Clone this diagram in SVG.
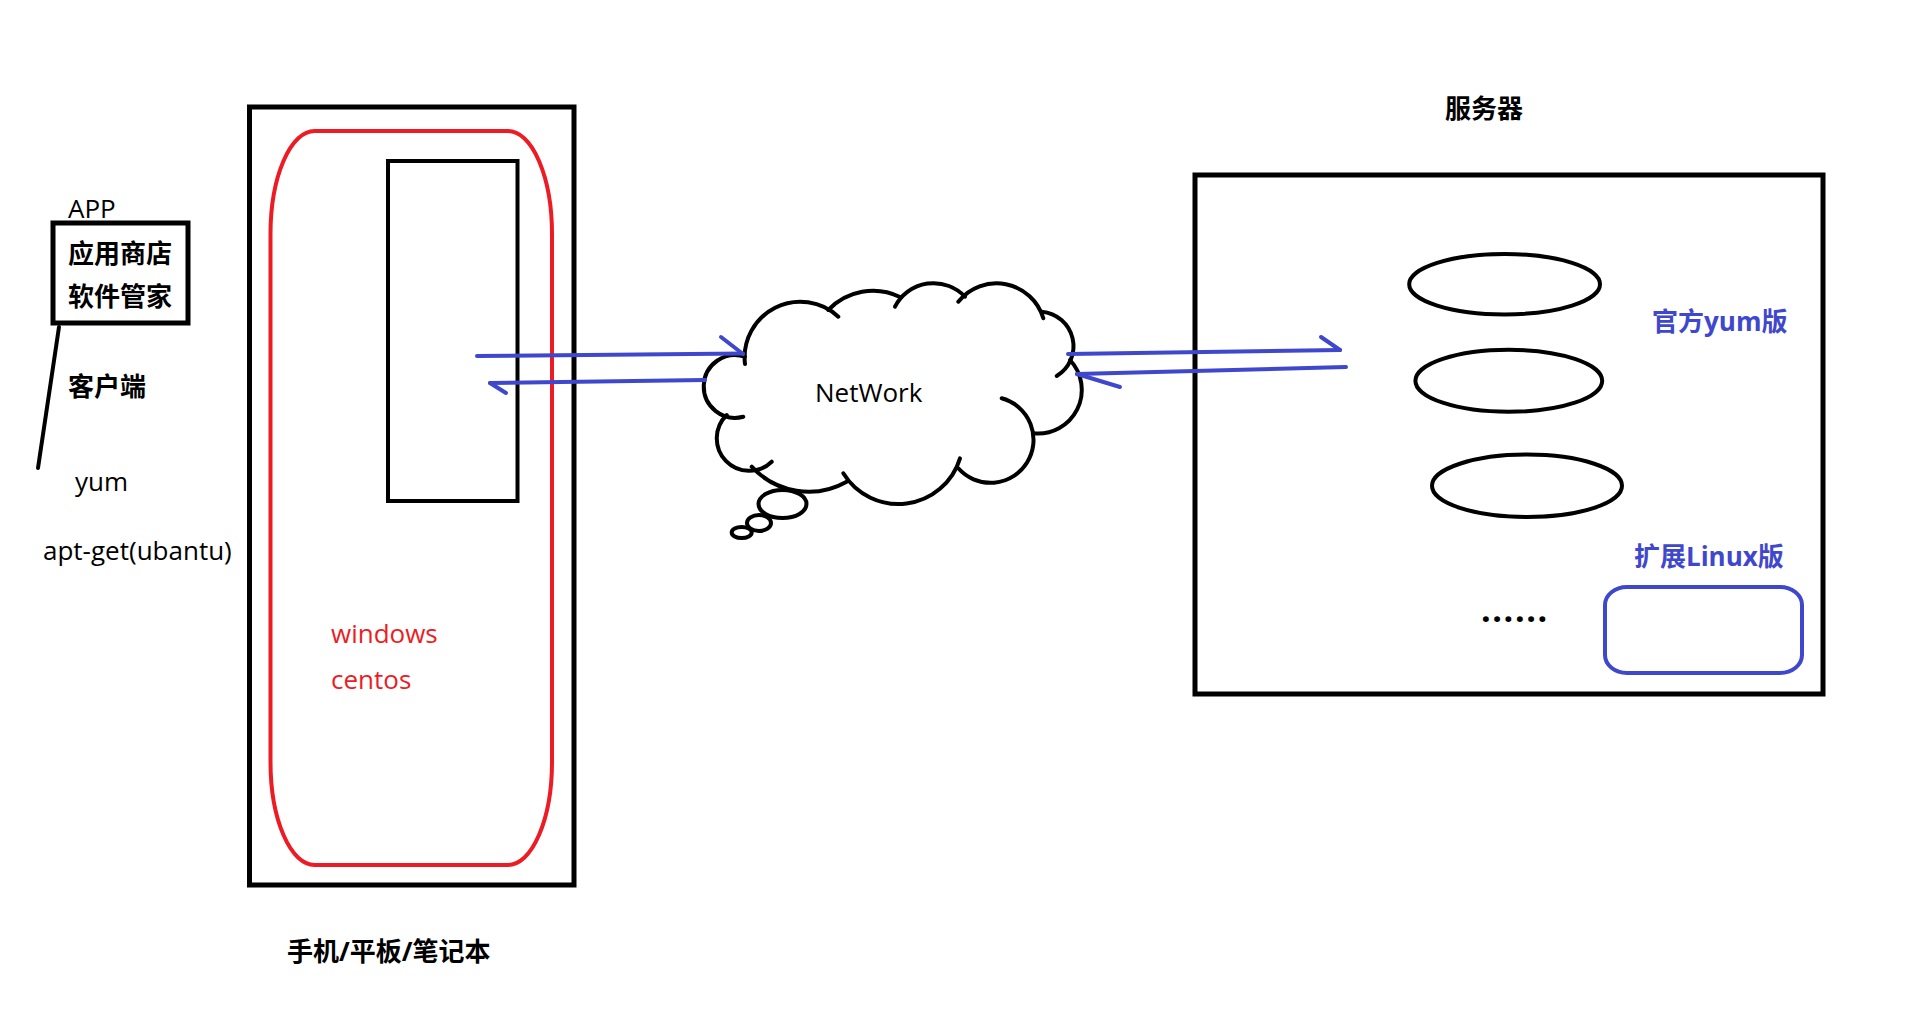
<svg xmlns="http://www.w3.org/2000/svg" width="1916" height="1026" viewBox="0 0 1916 1026">
<style>
  .box{fill:none;stroke:#000;stroke-width:5}
  .thin{fill:none;stroke:#000;stroke-width:4;stroke-linecap:round}
  .red{fill:none;stroke:#ED1C24;stroke-width:4}
  .blue{fill:none;stroke:#3F48CC;stroke-width:4;stroke-linecap:round}
  .t{font-family:"Open Sans","Noto Sans CJK SC",sans-serif;font-size:26px;fill:#000}
  .b{font-weight:bold}
  .tr{fill:#ED1C24}
  .tb{fill:#3F48CC}
</style>
<rect width="1916" height="1026" fill="#fff"/>

<g id="app-client">
  <rect class="box" x="53" y="223" width="135" height="100"/>
  <text class="t" x="68" y="218">APP</text>
  <text class="t b" x="68" y="263">应用商店</text>
  <text class="t b" x="68" y="306">软件管家</text>
  <line class="thin" x1="59" y1="327" x2="38" y2="468"/>
  <text class="t b" x="68" y="396">客户端</text>
  <text class="t" x="75" y="491">yum</text>
  <text class="t" x="43" y="560">apt-get(ubantu)</text>
</g>

<g id="device">
  <rect class="box" x="249.5" y="107" width="324.5" height="778"/>
  <rect class="red" x="270.5" y="131" width="281.5" height="734" rx="44" ry="103"/>
  <rect class="thin" x="388" y="161" width="129.5" height="340"/>
  <text class="t tr" x="331" y="643">windows</text>
  <text class="t tr" x="331" y="689">centos</text>
  <text class="t b" x="287" y="961">手机/平板/笔记本</text>
</g>

<g id="network">
  <g class="thin">
    <path d="M745,364 A55.7,55.7 0 0 1 838.3,316.7"/>
    <path d="M828.3,310 A61.7,61.7 0 0 1 900,297"/>
    <path d="M895,306.7 A43.3,43.3 0 0 1 965,296.7"/>
    <path d="M958.3,301.7 A48.8,48.8 0 0 1 1043.3,318.3"/>
    <path d="M1041.7,311.7 A34.7,34.7 0 0 1 1056.7,376"/>
    <path d="M1070,360 A43.7,43.7 0 0 1 1033.3,433.3"/>
    <path d="M1001.7,398.3 A43,43 0 1 1 958.3,468.3"/>
    <path d="M960,458.3 A64.5,64.5 0 0 1 843.3,473.3"/>
    <path d="M846.7,481.7 A77.4,77.4 0 0 1 751.7,466.7"/>
    <path d="M771.7,461.7 A32.4,32.4 0 0 1 726.7,415"/>
    <path d="M743.3,416.7 A31.35,31.35 0 1 1 745,356.7"/>
    <ellipse cx="782.5" cy="504" rx="24" ry="14"/>
    <ellipse cx="759" cy="523" rx="12" ry="8"/>
    <ellipse cx="741.7" cy="532.5" rx="10" ry="5.5"/>
  </g>
  <text class="t" x="815" y="402">NetWork</text>
</g>

<g id="server">
  <text class="t b" x="1445" y="118">服务器</text>
  <rect class="box" x="1195" y="175" width="628" height="519"/>
  <ellipse class="thin" cx="1504.6" cy="284.2" rx="95.4" ry="30.2"/>
  <ellipse class="thin" cx="1508.8" cy="380.8" rx="93.4" ry="31"/>
  <ellipse class="thin" cx="1527" cy="485.8" rx="95" ry="31.2"/>
  <text class="t b tb" x="1652" y="331">官方yum版</text>
  <text class="t b tb" x="1634" y="566">扩展Linux版</text>
  <text class="t b" x="1481" y="622" style="font-size:34px" letter-spacing="1.6">......</text>
  <rect class="blue" x="1605" y="587" width="197" height="86" rx="22" ry="18"/>
</g>

<g id="connectors">
  <line class="blue" x1="477" y1="356" x2="743" y2="353.5"/>
  <line class="blue" x1="721" y1="337" x2="743" y2="354"/>
  <line class="blue" x1="705" y1="380" x2="490" y2="383"/>
  <line class="blue" x1="490" y1="383" x2="506" y2="393"/>
  <line class="blue" x1="1068" y1="354" x2="1340" y2="350"/>
  <line class="blue" x1="1321" y1="337" x2="1340" y2="350"/>
  <line class="blue" x1="1346" y1="367" x2="1077" y2="374"/>
  <line class="blue" x1="1077" y1="374" x2="1120" y2="387"/>
</g>
</svg>
